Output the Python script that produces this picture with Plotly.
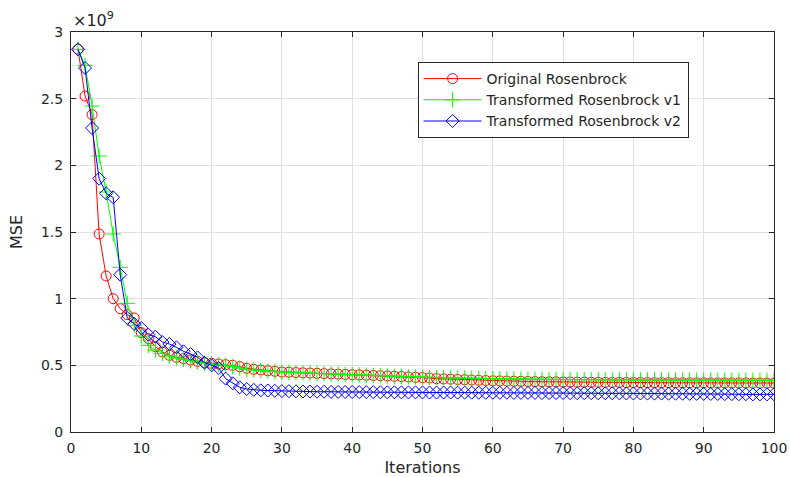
import plotly.graph_objects as go

iterations = list(range(1, 101))

# MSE values in units of 1e9
original = [
    2.87, 2.52, 2.38, 1.485, 1.17, 1.00, 0.925, 0.88, 0.855, 0.745,
    0.70, 0.64, 0.60, 0.575, 0.56, 0.55, 0.54, 0.53, 0.52, 0.515,
    0.51, 0.505, 0.50, 0.49, 0.478, 0.47, 0.465, 0.46, 0.455, 0.45,
    0.448, 0.446, 0.444, 0.442, 0.44, 0.438, 0.436, 0.434, 0.432, 0.43,
    0.428, 0.426, 0.424, 0.422, 0.42, 0.418, 0.416, 0.413, 0.41, 0.408,
    0.405, 0.40, 0.398, 0.396, 0.394, 0.392, 0.39, 0.388, 0.386, 0.384,
    0.383, 0.382, 0.381, 0.380, 0.379, 0.378, 0.377, 0.376, 0.376, 0.375,
    0.375, 0.374, 0.374, 0.373, 0.373, 0.372, 0.372, 0.372, 0.371, 0.371,
    0.371, 0.370, 0.370, 0.370, 0.370, 0.369, 0.369, 0.369, 0.369, 0.369,
    0.368, 0.368, 0.368, 0.368, 0.368, 0.368, 0.367, 0.367, 0.367, 0.367,
]

transformed_v1 = [
    2.87, 2.75, 2.445, 2.07, 1.80, 1.485, 1.235, 0.965, 0.80, 0.72,
    0.65, 0.615, 0.59, 0.57, 0.555, 0.545, 0.535, 0.525, 0.515, 0.51,
    0.505, 0.50, 0.49, 0.48, 0.47, 0.465, 0.46, 0.457, 0.454, 0.45,
    0.448, 0.446, 0.444, 0.442, 0.44, 0.438, 0.436, 0.434, 0.432, 0.43,
    0.428, 0.426, 0.424, 0.422, 0.42, 0.418, 0.416, 0.414, 0.412, 0.41,
    0.409, 0.408, 0.407, 0.406, 0.405, 0.404, 0.403, 0.402, 0.401, 0.40,
    0.399, 0.398, 0.397, 0.397, 0.396, 0.396, 0.395, 0.395, 0.394, 0.394,
    0.393, 0.393, 0.393, 0.392, 0.392, 0.392, 0.391, 0.391, 0.391, 0.390,
    0.390, 0.390, 0.390, 0.390, 0.389, 0.389, 0.389, 0.389, 0.389, 0.389,
    0.389, 0.388, 0.388, 0.388, 0.388, 0.388, 0.388, 0.388, 0.388, 0.388,
]

transformed_v2 = [
    2.87, 2.73, 2.28, 1.90, 1.79, 1.76, 1.18, 0.855, 0.81, 0.78,
    0.73, 0.715, 0.675, 0.66, 0.635, 0.605, 0.585, 0.56, 0.52, 0.50,
    0.48, 0.40, 0.365, 0.335, 0.322, 0.316, 0.313, 0.311, 0.309, 0.307,
    0.306, 0.305, 0.304, 0.303, 0.302, 0.302, 0.301, 0.301, 0.300, 0.300,
    0.299, 0.299, 0.299, 0.298, 0.298, 0.298, 0.297, 0.297, 0.297, 0.297,
    0.296, 0.296, 0.296, 0.296, 0.295, 0.295, 0.295, 0.295, 0.294, 0.294,
    0.294, 0.294, 0.293, 0.293, 0.293, 0.293, 0.292, 0.292, 0.292, 0.292,
    0.291, 0.291, 0.291, 0.291, 0.290, 0.290, 0.290, 0.290, 0.289, 0.289,
    0.289, 0.288, 0.288, 0.288, 0.287, 0.287, 0.287, 0.286, 0.286, 0.286,
    0.285, 0.285, 0.284, 0.284, 0.283, 0.283, 0.282, 0.282, 0.282, 0.283,
]

x_ticks = [0, 10, 20, 30, 40, 50, 60, 70, 80, 90, 100]
y_ticks = [0, 0.5, 1, 1.5, 2, 2.5, 3]
y_tick_text = ["0", "0.5", "1", "1.5", "2", "2.5", "3"]

series = [
    ("Original Rosenbrock", original, "#ff0000", "circle-open", 10),
    ("Transformed Rosenbrock v1", transformed_v1, "#00ff00", "cross-thin-open", 11),
    ("Transformed Rosenbrock v2", transformed_v2, "#0000ff", "diamond-open", 10),
]

fig = go.Figure()
for name, vals, color, sym, sz in series:
    fig.add_trace(go.Scatter(
        x=iterations, y=vals, name=name, mode="lines+markers",
        line=dict(color=color, width=1),
        marker=dict(symbol=sym, size=sz, color=color, line=dict(color=color, width=1)),
    ))

axis_common = dict(
    showline=True, linecolor="#262626", linewidth=1, mirror="ticks",
    ticks="inside", ticklen=5, tickcolor="#262626",
    showgrid=True, gridcolor="#e0e0e0", gridwidth=1, zeroline=False,
    automargin=False,
    tickfont=dict(family="DejaVu Sans", size=14, color="#262626"),
)

fig.update_layout(
    width=790, height=477,
    paper_bgcolor="white", plot_bgcolor="white",
    margin=dict(l=71, r=16, t=32, b=45),
    font=dict(family="DejaVu Sans", color="#262626"),
    xaxis=dict(range=[0, 100], tickvals=x_ticks, ticklabelstandoff=3,
               title=dict(text="Iterations", font=dict(size=16), standoff=8),
               **axis_common),
    yaxis=dict(range=[0, 3], tickvals=y_ticks, ticktext=y_tick_text,
               ticklabelstandoff=4,
               title=dict(text="MSE", font=dict(size=16), standoff=14),
               **axis_common),
    legend=dict(x=0.493, y=0.925, xanchor="left", yanchor="top",
                bgcolor="white", bordercolor="#262626", borderwidth=1,
                font=dict(family="DejaVu Sans", size=14, color="#262626"),
                tracegroupgap=0, itemwidth=58),
    showlegend=True,
    annotations=[dict(text="×10<sup>9</sup>", xref="paper", yref="paper",
                      x=0, y=1, xanchor="left", yanchor="bottom", showarrow=False,
                      font=dict(family="DejaVu Sans", size=16, color="#262626"))],
)

fig.write_html("out.html", config={"displayModeBar": False})

with open("out.html", "r", encoding="utf-8") as f:
    html = f.read()
html = html.replace("<body>", '<body style="margin:0;padding:0;overflow:hidden">', 1)
with open("out.html", "w", encoding="utf-8") as f:
    f.write(html)
